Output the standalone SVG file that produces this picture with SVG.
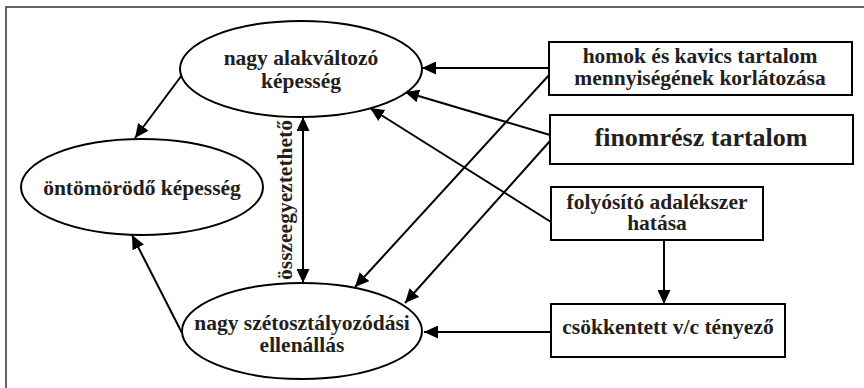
<svg xmlns="http://www.w3.org/2000/svg" width="864" height="388" viewBox="0 0 864 388">
<style>
.t{font-family:"Liberation Serif","Times New Roman",serif;font-weight:bold;fill:#231f20;text-anchor:middle;font-size:21.5px}
.n{fill:#fff;stroke:#000;stroke-width:2}
.c line{stroke:#000;stroke-width:2}
</style>
<defs>
<marker id="ah" markerUnits="userSpaceOnUse" markerWidth="14" markerHeight="13" refX="14" refY="6.5" orient="auto-start-reverse"><path d="M0,0 L14,6.5 L0,13 z" fill="#000"/></marker>
</defs>
<rect x="6" y="7" width="870" height="400" fill="#fff" stroke="#333" stroke-width="1.5"/>
<g class="c">
<line x1="549" y1="68" x2="422" y2="68" marker-end="url(#ah)"/>
<line x1="550" y1="135" x2="405" y2="92" marker-end="url(#ah)"/>
<line x1="551" y1="222" x2="370" y2="108" marker-end="url(#ah)"/>
<line x1="550" y1="74" x2="355" y2="287" marker-end="url(#ah)"/>
<line x1="550" y1="141" x2="405" y2="303" marker-end="url(#ah)"/>
<line x1="551" y1="332" x2="424" y2="332" marker-end="url(#ah)"/>
<line x1="303" y1="117" x2="303" y2="283" marker-start="url(#ah)" marker-end="url(#ah)"/>
<line x1="182" y1="75" x2="135" y2="138" marker-end="url(#ah)"/>
<line x1="182" y1="333" x2="132" y2="235" marker-end="url(#ah)"/>
<line x1="664" y1="240" x2="664" y2="304" marker-end="url(#ah)"/>
</g>
<g id="n-alak"><ellipse class="n" cx="301" cy="69" rx="121" ry="48"/><text class="t" x="301" y="65">nagy alakváltozó</text><text class="t" x="301" y="88">képesség</text></g>
<g id="n-ontom"><ellipse class="n" cx="142" cy="187" rx="121" ry="48"/><text class="t" x="142" y="195">öntömörödő képesség</text></g>
<g id="n-szet"><ellipse class="n" cx="302" cy="331" rx="120" ry="48"/><text class="t" x="302" y="330">nagy szétosztályozódási</text><text class="t" x="302" y="352">ellenállás</text></g>
<g id="n-homok"><rect class="n" x="549" y="42" width="303" height="53"/><text class="t" x="700" y="63">homok és kavics tartalom</text><text class="t" x="700" y="85">mennyiségének korlátozása</text></g>
<g id="n-finom"><rect class="n" x="550" y="115" width="303" height="49"/><text class="t" x="701" y="146" style="font-size:26px">finomrész tartalom</text></g>
<g id="n-foly"><rect class="n" x="551" y="187" width="212" height="53"/><text class="t" x="657" y="209">folyósító adalékszer</text><text class="t" x="657" y="230">hatása</text></g>
<g id="n-vc"><rect class="n" x="551" y="304" width="234" height="53"/><text class="t" x="668" y="334">csökkentett v/c tényező</text></g>
<text class="t" transform="translate(292,200) rotate(-90)" x="0" y="0">összeegyeztethető</text>
</svg>
